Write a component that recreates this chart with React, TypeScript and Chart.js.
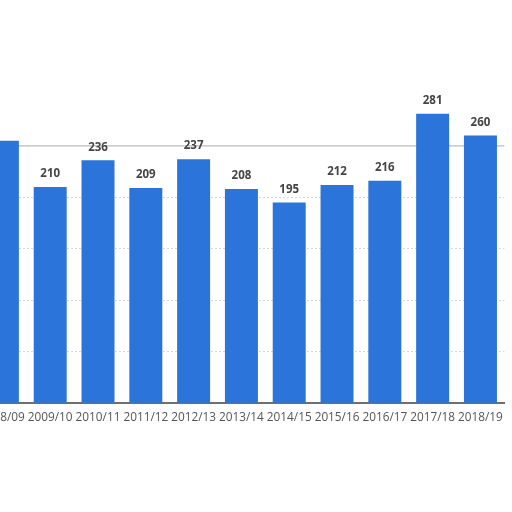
import React, { useEffect, useRef } from "react";
import { Chart, registerables } from "chart.js";

Chart.register(...registerables);

const seasons = [
  "2008/09", "2009/10", "2010/11", "2011/12", "2012/13", "2013/14",
  "2014/15", "2015/16", "2016/17", "2017/18", "2018/19",
];
const values = [255, 210, 236, 209, 237, 208, 195, 212, 216, 281, 260];
const yMin = 0;
const yMax = 300;
const yStep = 50;
const topGridValue = 250;

const OFFSET_X = 30; // canvas is shifted left so the first bar is cut off
const CANVAS_W = 540;
const CANVAS_H = 512;

const topLine = {
  id: "topLine",
  beforeDatasetsDraw(chart: any) {
    const ctx = chart.ctx;
    const y = chart.scales.y.getPixelForValue(topGridValue);
    const { left, right } = chart.chartArea;
    ctx.save();
    ctx.strokeStyle = "#bcbcbc";
    ctx.lineWidth = 1.2;
    ctx.beginPath();
    ctx.moveTo(left, y);
    ctx.lineTo(right, y);
    ctx.stroke();
    ctx.restore();
  },
};

const valueLabels = {
  id: "valueLabels",
  afterDatasetsDraw(chart: any) {
    const ctx = chart.ctx;
    const meta = chart.getDatasetMeta(0);
    ctx.save();
    ctx.font = "bold 11.5px 'Open Sans'";
    ctx.fillStyle = "#444444";
    ctx.textAlign = "center";
    ctx.textBaseline = "middle";
    meta.data.forEach((bar: any, i: number) => {
      const text = String(values[i]);
      const w = ctx.measureText(text).width;
      if (bar.x - w / 2 < OFFSET_X) return;
      ctx.fillText(text, bar.x, bar.y - 13);
    });
    ctx.restore();
  },
};

export default function App() {
  const ref = useRef<HTMLCanvasElement>(null);

  useEffect(() => {
    if (!ref.current) return;
    const chart = new Chart(ref.current, {
      type: "bar",
      data: {
        labels: seasons,
        datasets: [
          {
            data: values,
            backgroundColor: "#2b74d9",
            borderWidth: 0,
            categoryPercentage: 1,
            barPercentage: 0.69,
          },
        ],
      },
      options: {
        responsive: false,
        animation: false,
        layout: { padding: { left: 8.5, right: 3.5, top: 94.3, bottom: 78.7 } },
        plugins: { legend: { display: false }, tooltip: { enabled: false } },
        scales: {
          x: {
            grid: { display: false, drawTicks: false },
            border: { display: true, color: "#6f6f6f", width: 2 },
            ticks: {
              color: "#555555",
              font: { family: "'Open Sans'", size: 11.8 },
              padding: 7,
              maxRotation: 0,
              autoSkip: false,
            },
            afterFit: (scale: any) => {
              scale.height = 30;
            },
          },
          y: {
            min: yMin,
            max: yMax,
            ticks: { display: false, stepSize: yStep },
            grid: {
              drawTicks: false,
              color: (c: any) =>
                c.tick && (c.tick.value === 300 || c.tick.value === 0 || c.tick.value === topGridValue)
                  ? "rgba(0,0,0,0)"
                  : "#d6d6d6",
              lineWidth: 1,
            },
            border: { display: false, dash: [2, 2] },
            afterFit: (scale: any) => {
              scale.width = 0;
            },
          },
        },
      },
      plugins: [topLine, valueLabels],
    });
    return () => chart.destroy();
  }, []);

  return (
    <div
      style={{
        position: "fixed",
        left: -OFFSET_X,
        top: 0,
        width: CANVAS_W,
        height: CANVAS_H,
        background: "#ffffff",
      }}
    >
      <canvas ref={ref} width={CANVAS_W} height={CANVAS_H} style={{ display: "block" }} />
    </div>
  );
}
